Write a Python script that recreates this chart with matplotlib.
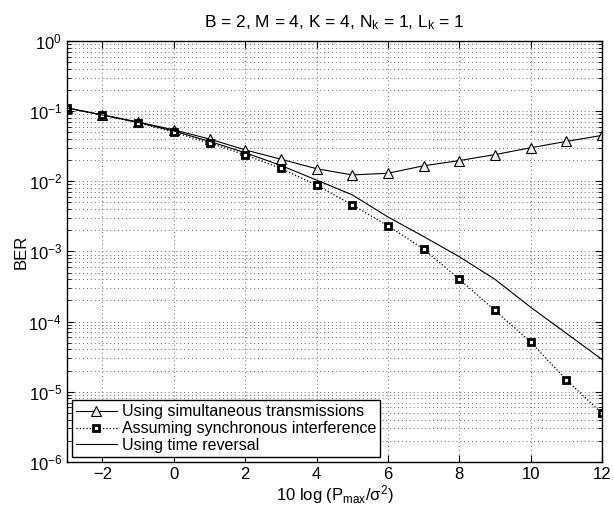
import matplotlib.pyplot as plt
from matplotlib.ticker import NullFormatter

plt.rcParams['font.family'] = ['Liberation Sans', 'DejaVu Sans']
plt.rcParams['mathtext.fontset'] = 'custom'
plt.rcParams['mathtext.rm'] = 'Liberation Sans'
plt.rcParams['mathtext.it'] = 'Liberation Sans:italic'

# SNR points
snr = [-3, -2, -1, 0, 1, 2, 3, 4, 5, 6, 7, 8, 9, 10, 11, 12]

# BER curves
ber_simult = [0.111, 0.088, 0.070, 0.054, 0.040, 0.028, 0.0206, 0.0151, 0.0123,
              0.0130, 0.0166, 0.0197, 0.024, 0.030, 0.037, 0.045]
ber_sync = [0.111, 0.088, 0.068, 0.050, 0.035, 0.0238, 0.0152, 0.0088, 0.0046,
            0.00232, 0.00108, 0.000403, 0.000144, 0.000051, 0.0000148, 0.0000049]
ber_tr = [0.111, 0.088, 0.069, 0.052, 0.037, 0.0255, 0.0168, 0.0104, 0.0064,
          0.0031, 0.00163, 0.00084, 0.0004, 0.000160, 0.000068, 0.0000288]

x_ticks = [-2, 0, 2, 4, 6, 8, 10, 12]
y_exps = [-6, -5, -4, -3, -2, -1, 0]

fig = plt.figure(figsize=(6.13, 5.12), dpi=100)
ax = fig.add_axes([0.109, 0.098, 0.873, 0.822])

ax.semilogy(snr, ber_simult, '-', color='black', lw=0.8, marker='^',
            ms=7, mfc='#eeeeee', mec='black', mew=0.8,
            label='Using simultaneous transmissions')
ax.semilogy(snr, ber_sync, ':', color='black', lw=0.9, marker='s',
            ms=5, mfc='white', mec='black', mew=2.0,
            label='Assuming synchronous interference')
ax.semilogy(snr, ber_tr, '-', color='black', lw=0.8,
            label='Using time reversal')

ax.set_xlim(-3, 12)
ax.set_ylim(1e-6, 1)
ax.set_xticks(x_ticks)
ax.set_yticks([10.0 ** e for e in y_exps])
ax.set_yticklabels(['$\\mathregular{10^{%d}}$' % e for e in y_exps])
minor = [m * 10.0 ** e for e in y_exps[:-1] for m in range(2, 10)]
ax.set_yticks(minor, minor=True)
ax.yaxis.set_minor_formatter(NullFormatter())

grid_kw = dict(linestyle=(0, (1, 3)), color='#666666', lw=0.7)
ax.grid(True, which='major', **grid_kw)
ax.grid(True, which='minor', axis='y', **grid_kw)
ax.tick_params(which='both', direction='in', top=True, right=True, labelsize=12)
ax.tick_params(which='major', length=5)
ax.tick_params(which='minor', length=3)
for s in ax.spines.values():
    s.set_linewidth(1.0)

ax.set_title('B = 2, M = 4, K = 4, N$_{\\mathregular{k}}$ = 1, L$_{\\mathregular{k}}$ = 1',
             fontsize=12.5, pad=10)
ax.set_xlabel('10 log (P$_{\\mathregular{max}}$/σ$^{\\mathregular{2}}$)', fontsize=12, labelpad=1)
ax.set_ylabel('BER', fontsize=12, labelpad=0)

leg = ax.legend(loc='lower left', fontsize=11.5, frameon=True, fancybox=False,
                edgecolor='black', framealpha=1, borderaxespad=0.3,
                handlelength=2.6, handletextpad=0.3, labelspacing=0.12,
                borderpad=0.25)
leg.get_frame().set_linewidth(1.0)

plt.savefig('out.png', dpi=100)
